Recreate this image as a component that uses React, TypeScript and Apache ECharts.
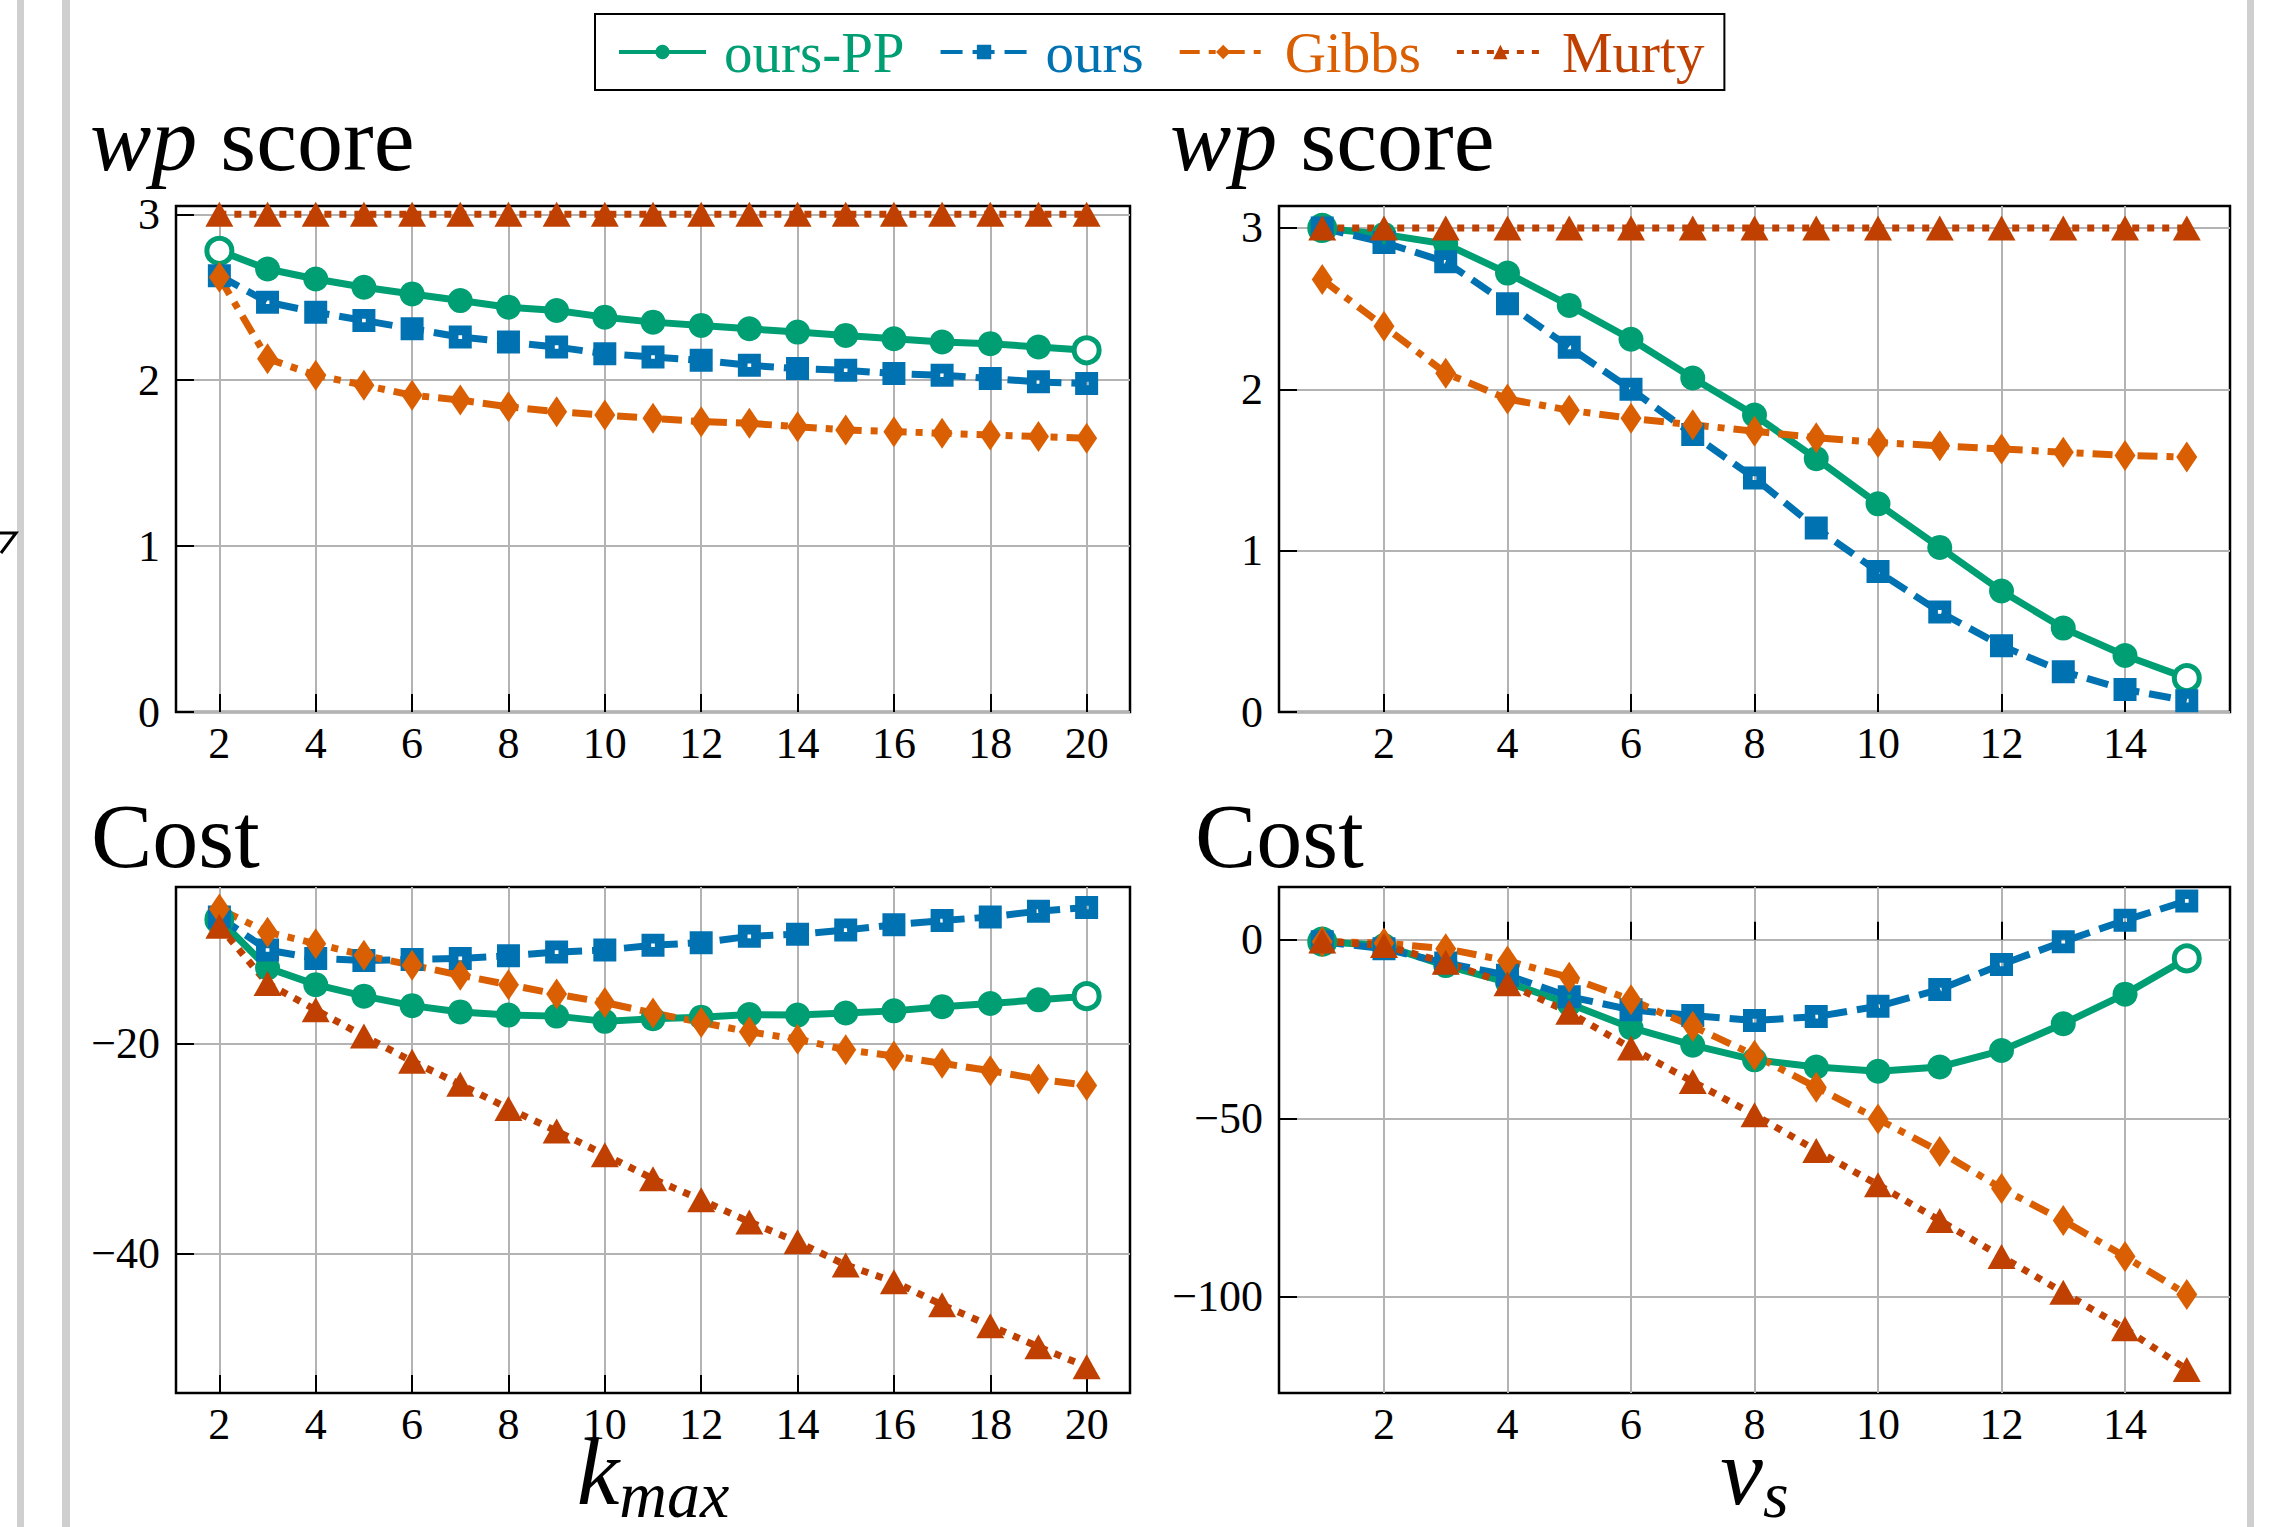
import React, { useEffect, useRef } from 'react';
import * as echarts from 'echarts';

// ---------- data ----------
const kmax = [2, 3, 4, 5, 6, 7, 8, 9, 10, 11, 12, 13, 14, 15, 16, 17, 18, 19, 20];
const nuS = [1, 2, 3, 4, 5, 6, 7, 8, 9, 10, 11, 12, 13, 14, 15];

const wpK_oursPP = [2.78, 2.67, 2.61, 2.56, 2.52, 2.48, 2.44, 2.42, 2.38, 2.35, 2.33, 2.31, 2.29, 2.27, 2.25, 2.23, 2.22, 2.2, 2.18];
const wpK_ours = [2.63, 2.47, 2.41, 2.36, 2.31, 2.26, 2.23, 2.2, 2.16, 2.14, 2.12, 2.09, 2.07, 2.06, 2.04, 2.03, 2.01, 1.99, 1.98];
const wpK_gibbs = [2.62, 2.13, 2.03, 1.97, 1.91, 1.88, 1.84, 1.81, 1.79, 1.77, 1.75, 1.74, 1.72, 1.7, 1.69, 1.68, 1.67, 1.66, 1.65];
const wpK_murty = [3, 3, 3, 3, 3, 3, 3, 3, 3, 3, 3, 3, 3, 3, 3, 3, 3, 3, 3];

const wpNu_oursPP = [3.0, 2.96, 2.9, 2.72, 2.52, 2.31, 2.07, 1.84, 1.57, 1.29, 1.02, 0.75, 0.52, 0.35, 0.21];
const wpNu_ours = [3.0, 2.91, 2.79, 2.53, 2.26, 2.0, 1.72, 1.45, 1.14, 0.87, 0.62, 0.41, 0.25, 0.14, 0.07];
const wpNu_gibbs = [2.68, 2.39, 2.1, 1.94, 1.87, 1.82, 1.78, 1.74, 1.7, 1.67, 1.65, 1.63, 1.61, 1.59, 1.58];
const wpNu_murty = [3, 3, 3, 3, 3, 3, 3, 3, 3, 3, 3, 3, 3, 3, 3];

const costK_oursPP = [-8.2, -12.8, -14.4, -15.5, -16.4, -17.0, -17.3, -17.4, -17.9, -17.65, -17.5, -17.25, -17.3, -17.1, -16.9, -16.5, -16.2, -15.85, -15.5];
const costK_ours = [-7.95, -11.1, -11.9, -12.1, -12.0, -11.9, -11.65, -11.3, -11.1, -10.65, -10.4, -9.8, -9.6, -9.2, -8.7, -8.3, -7.95, -7.4, -7.05];
const costK_gibbs = [-7.2, -9.4, -10.5, -11.6, -12.55, -13.5, -14.4, -15.3, -16.1, -17.1, -18.0, -18.9, -19.6, -20.6, -21.2, -21.9, -22.6, -23.4, -24.0];
const costK_murty = [-8.85, -14.3, -16.8, -19.3, -21.7, -23.9, -26.2, -28.35, -30.6, -32.9, -34.9, -37.0, -38.9, -41.1, -42.7, -44.9, -46.9, -48.9, -50.8];

const costNu_oursPP = [-0.5, -1.6, -7.2, -11.9, -17.9, -24.6, -29.5, -33.6, -35.6, -36.8, -35.6, -31.0, -23.5, -15.2, -5.2];
const costNu_ours = [-0.5, -2.5, -6.5, -9.9, -15.9, -19.6, -21.2, -22.6, -21.5, -18.6, -13.9, -6.9, -0.5, 5.5, 10.9];
const costNu_gibbs = [-0.5, -0.9, -2.5, -5.9, -10.5, -16.8, -24.2, -32.3, -41.3, -50.2, -59.3, -69.6, -78.6, -88.7, -99.3];
const costNu_murty = [-0.3, -1.6, -6.3, -12.3, -20.3, -30.3, -39.7, -49.0, -59.0, -68.6, -78.6, -88.7, -98.7, -108.9, -120.3];

const xTicksK = [2, 4, 6, 8, 10, 12, 14, 16, 18, 20];
const xTicksNu = [2, 4, 6, 8, 10, 12, 14];
const yTicksWp = [0, 1, 2, 3];
const yTicksCostK = [-40, -20];
const yTicksCostNu = [-100, -50, 0];

const seriesNames = ['ours-PP', 'ours', 'Gibbs', 'Murty'];

// ---------- style ----------
const FONT = '"Liberation Serif", "DejaVu Serif", serif';
const GREEN = '#009E73';
const BLUE = '#0072B2';
const ORANGE = '#D95F02';
const RED = '#BF4000';
const SQUARE = 'path://M0,0H10V10H0Z M4.2,4.2V5.8H5.8V4.2Z';

const STYLE: Record<string, any> = {
  'ours-PP': { color: GREEN, type: 'solid', symbol: 'circle', size: 25 },
  ours: { color: BLUE, type: [22, 10], symbol: SQUARE, size: 23 },
  Gibbs: { color: ORANGE, type: [20, 9, 7, 9], symbol: 'diamond', size: [21, 31] },
  Murty: { color: RED, type: [7, 8], symbol: 'triangle', size: [28, 25] },
};

function mkSeries(name: string, idx: number, xs: number[], ys: number[]) {
  const s = STYLE[name];
  const data = xs.map((x, i) => {
    const item: any = { value: [x, ys[i]] };
    if (name === 'ours-PP' && (i === 0 || i === xs.length - 1)) {
      item.itemStyle = { color: '#fff', borderColor: GREEN, borderWidth: 5 };
    }
    return item;
  });
  return {
    type: 'line',
    name,
    xAxisIndex: idx,
    yAxisIndex: idx,
    data,
    symbol: s.symbol,
    symbolSize: s.size,
    showSymbol: true,
    lineStyle: { color: s.color, width: 7, type: s.type },
    itemStyle: { color: s.color },
    emphasis: { disabled: true },
  };
}

const fmt = (v: number) => String(v).replace('-', '\u2212');

const grids = [
  { left: 176, top: 206, width: 954, height: 506 },
  { left: 1279, top: 206, width: 951, height: 506 },
  { left: 176, top: 887, width: 954, height: 506 },
  { left: 1279, top: 887, width: 951, height: 506 },
];

const xRanges = [
  [1.1, 20.9, xTicksK],
  [0.3, 15.7, xTicksNu],
  [1.1, 20.9, xTicksK],
  [0.3, 15.7, xTicksNu],
];
const yRanges = [
  [0, 3.05, yTicksWp],
  [0, 3.136, yTicksWp],
  [-53.3, -5.1, yTicksCostK],
  [-126.9, 14.8, yTicksCostNu],
];

const gridLine = { show: true, lineStyle: { color: '#B3B3B3', width: 2 } };

function mkAxisName(i: number) {
  if (i === 2) return { name: '{k|k}{s|max}' };
  if (i === 3) return { name: '{k|\u03BD}{s|s}' };
  return {};
}

const nameRich = {
  k: { fontFamily: FONT, fontStyle: 'italic', fontSize: 96, lineHeight: 72, padding: [0, 0, 8, 0], verticalAlign: 'bottom', color: '#000' },
  s: { fontFamily: FONT, fontStyle: 'italic', fontSize: 66, lineHeight: 46, verticalAlign: 'bottom', color: '#000' },
};

const xAxes = grids.map((_, i) => ({
  type: 'value',
  gridIndex: i,
  min: xRanges[i][0],
  max: xRanges[i][1],
  axisLine: { show: false },
  axisTick: { show: true, inside: true, length: 18, lineStyle: { color: '#000', width: 2 }, customValues: xRanges[i][2] },
  axisLabel: { customValues: xRanges[i][2], fontFamily: FONT, fontSize: 44, color: '#000', margin: 9, formatter: fmt },
  splitLine: gridLine,
  nameLocation: 'middle',
  nameGap: 62,
  nameMoveOverlap: false,
  nameTextStyle: { rich: nameRich },
  ...mkAxisName(i),
}));

const yAxes = grids.map((_, i) => ({
  type: 'value',
  gridIndex: i,
  min: yRanges[i][0],
  max: yRanges[i][1],
  axisLine: { show: false },
  axisTick: { show: true, inside: true, length: 18, lineStyle: { color: '#000', width: 2 }, customValues: yRanges[i][2] },
  axisLabel: { customValues: yRanges[i][2], fontFamily: FONT, fontSize: 44, color: '#000', margin: 16, formatter: fmt },
  splitLine: gridLine,
}));

const titleStyle = {
  fontFamily: FONT,
  fontSize: 92,
  fontWeight: 'normal',
  color: '#000',
  rich: { i: { fontFamily: FONT, fontStyle: 'italic', fontSize: 92, color: '#000' } },
};

const titles = [
  { text: '{i|wp} score', left: 90, top: 93 },
  { text: '{i|wp} score', left: 1170, top: 93 },
  { text: 'Cost', left: 91, top: 790 },
  { text: 'Cost', left: 1195, top: 790 },
].map((t) => ({ ...t, padding: 0, textStyle: titleStyle }));

const legendColors: Record<string, string> = { 'ours-PP': GREEN, ours: BLUE, Gibbs: ORANGE, Murty: RED };

const allSeries = [
  mkSeries('ours-PP', 0, kmax, wpK_oursPP),
  mkSeries('ours', 0, kmax, wpK_ours),
  mkSeries('Gibbs', 0, kmax, wpK_gibbs),
  mkSeries('Murty', 0, kmax, wpK_murty),
  mkSeries('ours-PP', 1, nuS, wpNu_oursPP),
  mkSeries('ours', 1, nuS, wpNu_ours),
  mkSeries('Gibbs', 1, nuS, wpNu_gibbs),
  mkSeries('Murty', 1, nuS, wpNu_murty),
  mkSeries('ours-PP', 2, kmax, costK_oursPP),
  mkSeries('ours', 2, kmax, costK_ours),
  mkSeries('Gibbs', 2, kmax, costK_gibbs),
  mkSeries('Murty', 2, kmax, costK_murty),
  mkSeries('ours-PP', 3, nuS, costNu_oursPP),
  mkSeries('ours', 3, nuS, costNu_ours),
  mkSeries('Gibbs', 3, nuS, costNu_gibbs),
  mkSeries('Murty', 3, nuS, costNu_murty),
];

const option: any = {
  animation: false,
  backgroundColor: '#fff',
  title: titles,
  grid: grids.map((g) => ({
    ...g,
    show: true,
    borderColor: '#000',
    borderWidth: 2.5,
    backgroundColor: 'transparent',
    containLabel: false,
    outerBoundsMode: 'none',
  })),
  xAxis: xAxes,
  yAxis: yAxes,
  legend: {
    left: 595,
    top: 14,
    orient: 'horizontal',
    itemWidth: 87,
    itemHeight: 18,
    itemGap: 34,
    padding: [7, 20, 7, 22],
    borderColor: '#000',
    borderWidth: 2,
    selectedMode: false,
    lineStyle: { width: 4 },
    textStyle: { fontFamily: FONT, fontSize: 57, lineHeight: 62, padding: [0, 0, 0, 13] },
    data: seriesNames.map((n) => ({ name: n, textStyle: { color: legendColors[n] } })),
  },
  graphic: [
    { type: 'rect', left: 17, top: 0, shape: { width: 7, height: 1527 }, style: { fill: '#CFCFCF' }, silent: true },
    { type: 'rect', left: 62, top: 0, shape: { width: 8, height: 1527 }, style: { fill: '#CFCFCF' }, silent: true },
    { type: 'rect', left: 2247, top: 0, shape: { width: 7, height: 1527 }, style: { fill: '#CFCFCF' }, silent: true },
    { type: 'polyline', shape: { points: [[0, 533], [16, 533], [1, 553]] }, style: { stroke: '#000', lineWidth: 3, fill: null }, silent: true },
  ],
  series: allSeries,
};

export default function App() {
  const ref = useRef<HTMLDivElement>(null);
  useEffect(() => {
    const chart = echarts.init(ref.current!, null, { renderer: 'svg' });
    chart.setOption(option);
    return () => chart.dispose();
  }, []);
  return (
    <div
      ref={ref}
      style={{ position: 'fixed', left: 0, top: 0, width: 2275, height: 1527, background: '#fff' }}
    />
  );
}
